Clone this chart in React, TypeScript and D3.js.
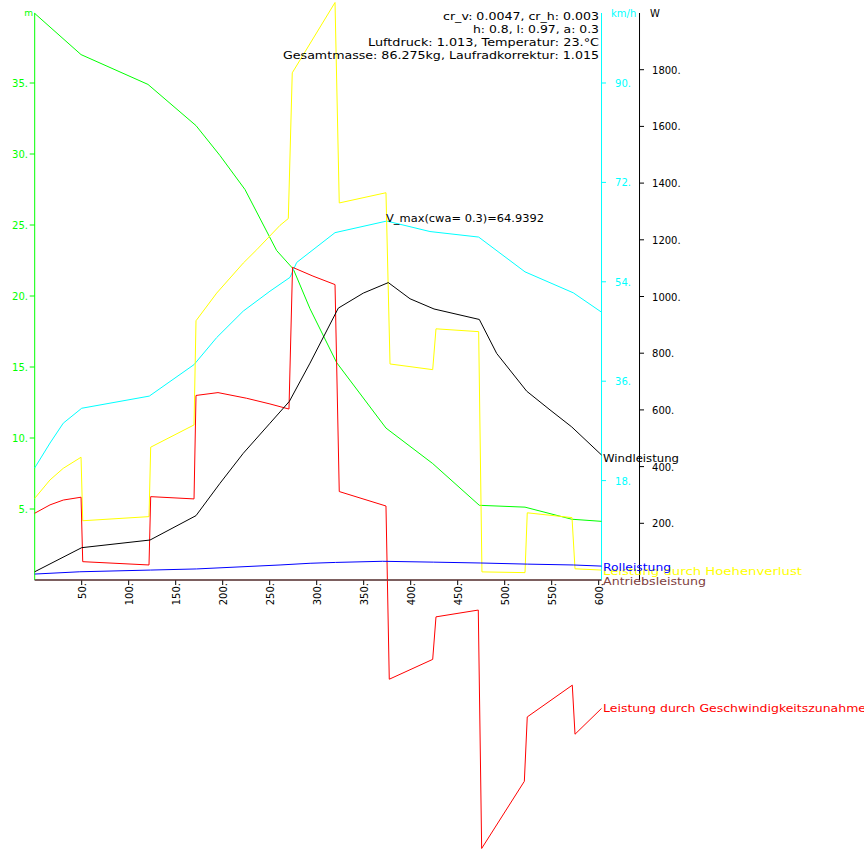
import { line, scaleLinear } from 'd3';

// distance (x) in units of the bottom axis
const xTicks = [50, 100, 150, 200, 250, 300, 350, 400, 450, 500, 550, 600];
const mTicks = [5, 10, 15, 20, 25, 30, 35];
const kmhTicks = [18, 36, 54, 72, 90];
const wTicks = [200, 400, 600, 800, 1000, 1200, 1400, 1600, 1800];

// Hoehe (m)
const hoeheX = [0, 49.3, 120.5, 171.6, 197, 223.7, 257.4, 275.1, 292.9, 321.3, 373.7, 423.4, 473, 521.6, 571.3, 603];
const hoehe = [39.9, 37.0, 34.9, 32.0, 29.9, 27.5, 23.2, 21.9, 19.1, 15.3, 10.7, 8.2, 5.26, 5.13, 4.28, 4.13];

// Geschwindigkeit (km/h)
const speedX = [0, 16.3, 30.4, 50, 121.9, 169.5, 193.6, 221.9, 250.3, 271.6, 278.7, 319.5, 374.5, 420.5, 472.3, 521.6, 573, 603];
const speed = [20.3, 24.8, 28.4, 31.1, 33.3, 39.0, 43.9, 48.7, 52.3, 54.8, 57.5, 62.9, 65.0, 63.1, 62.1, 55.8, 52.0, 48.5];

// Windleistung (W)
const windX = [0, 50, 122.7, 171.6, 197.1, 221.9, 250.3, 270.9, 292.9, 323, 349.6, 376.2, 399.3, 424.8, 473, 491.5, 523.4, 548.2, 571.3, 603];
const wind = [29, 114, 141, 227, 341, 447, 553, 630, 765, 959, 1012, 1049, 992, 956, 919, 799, 666, 600, 540, 441];

// Rolleistung (W)
const rollX = [0, 48, 123, 172, 261, 293, 320, 370, 424, 474, 524, 573, 603];
const roll = [21, 29, 35, 39, 53, 59, 62, 66, 63, 60, 56, 53, 49];

// Leistung durch Hoehenverlust (W)
const hoehenX = [0, 16.3, 30.4, 49.3, 51.1, 121.6, 123.4, 169.5, 171.6, 193.6, 221.9, 236.2, 261, 269.8, 274, 319.5, 324, 373.7, 378, 423.4, 426.9, 472.3, 475.8, 521.6, 524, 571.6, 574.8, 603];
const hoehenverlust = [288, 353, 394, 433, 209, 223.5, 468.5, 547, 914.5, 1012, 1118, 1165, 1251, 1275, 1789, 2037, 1330, 1366, 762, 742, 886, 876, 28.6, 26, 237, 220, 39.5, 35];

// Leistung durch Geschwindigkeitszunahme (W)
const beschlX = [0, 16.3, 30.4, 49.3, 51.1, 121.6, 123.4, 169.5, 171.6, 195, 225.5, 250.3, 270.5, 274.3, 296, 319.5, 324, 373.7, 377.2, 423.4, 426.9, 471.9, 475.5, 520.9, 524, 571.9, 574.8, 603];
const beschleunigung = [235.5, 265, 282, 292, 64.6, 53, 294, 286, 651, 661, 641, 621, 603, 1103, 1072, 1042, 312, 261, -350, -280, -130, -106, -947, -710, -483, -371, -544, -453];

// Antriebsleistung (W)
const antriebX = [0, 603];
const antrieb = [0, 0];

const infoLines = [
  'cr_v: 0.0047, cr_h: 0.003',
  'h: 0.8, l: 0.97, a: 0.3',
  'Luftdruck: 1.013, Temperatur: 23.°C',
  'Gesamtmasse: 86.275kg, Laufradkorrektur: 1.015',
];
const infoWidths = [156, 126, 231, 316];
const vmaxText = 'V_max(cwa= 0.3)=64.9392';

const width = 864;
const height = 849;
const font = '"DejaVu Sans", sans-serif';

const x = scaleLinear().domain([0, 600]).range([34.7, 598.7]);
const yM = scaleLinear().domain([0, 40]).range([580, 12]);
const yKmh = scaleLinear().domain([0, 103]).range([580, 11.2]);
const yW = scaleLinear().domain([0, 2000]).range([580, 13]);

const axisTop = 13;
const xEnd = x(603);
const wAxisX = xEnd + 38;

function path(xs: number[], ys: number[], y: (v: number) => number) {
  return line<number>()
    .x((_, i) => x(xs[i]))
    .y(v => y(v))(ys) ?? '';
}

function Label({ x: lx, y: ly, len, color, children, anchor }: {
  x: number; y: number; len: number; color: string; children: string; anchor?: string;
}) {
  return (
    <text
      x={lx}
      y={ly}
      textAnchor={anchor ?? 'start'}
      fontSize={11}
      fill={color}
      textLength={len}
      lengthAdjust="spacingAndGlyphs"
    >
      {children}
    </text>
  );
}

export default function App() {
  return (
    <svg
      width={width}
      height={height}
      viewBox={`0 0 ${width} ${height}`}
      style={{ position: 'absolute', left: 0, top: 0, background: '#ffffff', fontFamily: font }}
    >
      {/* bottom axis */}
      <line x1={x(0)} x2={xEnd} y1={580} y2={580} stroke="#000000" />
      {xTicks.map(t => (
        <g key={t}>
          <line x1={x(t)} x2={x(t)} y1={580} y2={585} stroke="#000000" />
          <text
            transform={`translate(${x(t) + 4},583) rotate(-90)`}
            textAnchor="end"
            fontSize={10}
            fill="#000000"
          >
            {t}.
          </text>
        </g>
      ))}

      {/* left axis (m) */}
      <line x1={x(0)} x2={x(0)} y1={axisTop} y2={580} stroke="#00ff00" />
      {mTicks.map(t => (
        <g key={t}>
          <line x1={x(0) - 5} x2={x(0)} y1={yM(t)} y2={yM(t)} stroke="#00ff00" />
          <text x={28} y={yM(t) + 4} textAnchor="end" fontSize={10} fill="#00ff00">{t}.</text>
        </g>
      ))}
      <text x={33} y={16} textAnchor="end" fontSize={9} fill="#00ff00">m</text>

      {/* km/h axis */}
      <line x1={xEnd} x2={xEnd} y1={axisTop} y2={580} stroke="#00ffff" />
      {kmhTicks.map(t => (
        <g key={t}>
          <line x1={xEnd} x2={xEnd + 4.5} y1={yKmh(t)} y2={yKmh(t)} stroke="#00ffff" />
          <text x={xEnd + 13.5} y={yKmh(t) + 4} fontSize={10} fill="#00ffff">{t}.</text>
        </g>
      ))}
      <text x={611} y={17} fontSize={10} fill="#00ffff">km/h</text>

      {/* W axis */}
      <line x1={wAxisX} x2={wAxisX} y1={axisTop} y2={580} stroke="#000000" />
      {wTicks.map(t => (
        <g key={t}>
          <line x1={wAxisX} x2={wAxisX + 4.5} y1={yW(t)} y2={yW(t)} stroke="#000000" />
          <text x={wAxisX + 12.5} y={yW(t) + 4} fontSize={10} fill="#000000">{t}.</text>
        </g>
      ))}
      <text x={650} y={17} fontSize={10} fill="#000000">W</text>

      {/* series */}
      <path d={path(hoeheX, hoehe, yM)} fill="none" stroke="#00ff00" />
      <path d={path(speedX, speed, yKmh)} fill="none" stroke="#00ffff" />
      <path d={path(hoehenX, hoehenverlust, yW)} fill="none" stroke="#ffff00" />
      <path d={path(beschlX, beschleunigung, yW)} fill="none" stroke="#ff0000" />
      <path d={path(windX, wind, yW)} fill="none" stroke="#000000" />
      <path d={path(rollX, roll, yW)} fill="none" stroke="#0000ff" />
      <path d={path(antriebX, antrieb, yW)} fill="none" stroke="#7a4040" />

      {/* curve labels */}
      <Label x={603} y={462} len={76} color="#000000">Windleistung</Label>
      <Label x={603} y={574.5} len={199} color="#ffff00">Leistung durch Hoehenverlust</Label>
      <Label x={603} y={570.5} len={68} color="#0000ff">Rolleistung</Label>
      <Label x={603} y={584.5} len={103} color="#804040">Antriebsleistung</Label>
      <Label x={603} y={712} len={263} color="#ff0000">Leistung durch Geschwindigkeitszunahme</Label>

      {/* info */}
      {infoLines.map((t, i) => (
        <Label key={t} x={599} y={19.5 + i * 13} len={infoWidths[i]} anchor="end" color="#000000">{t}</Label>
      ))}
      <Label x={386} y={222} len={158} color="#000000">{vmaxText}</Label>
    </svg>
  );
}
